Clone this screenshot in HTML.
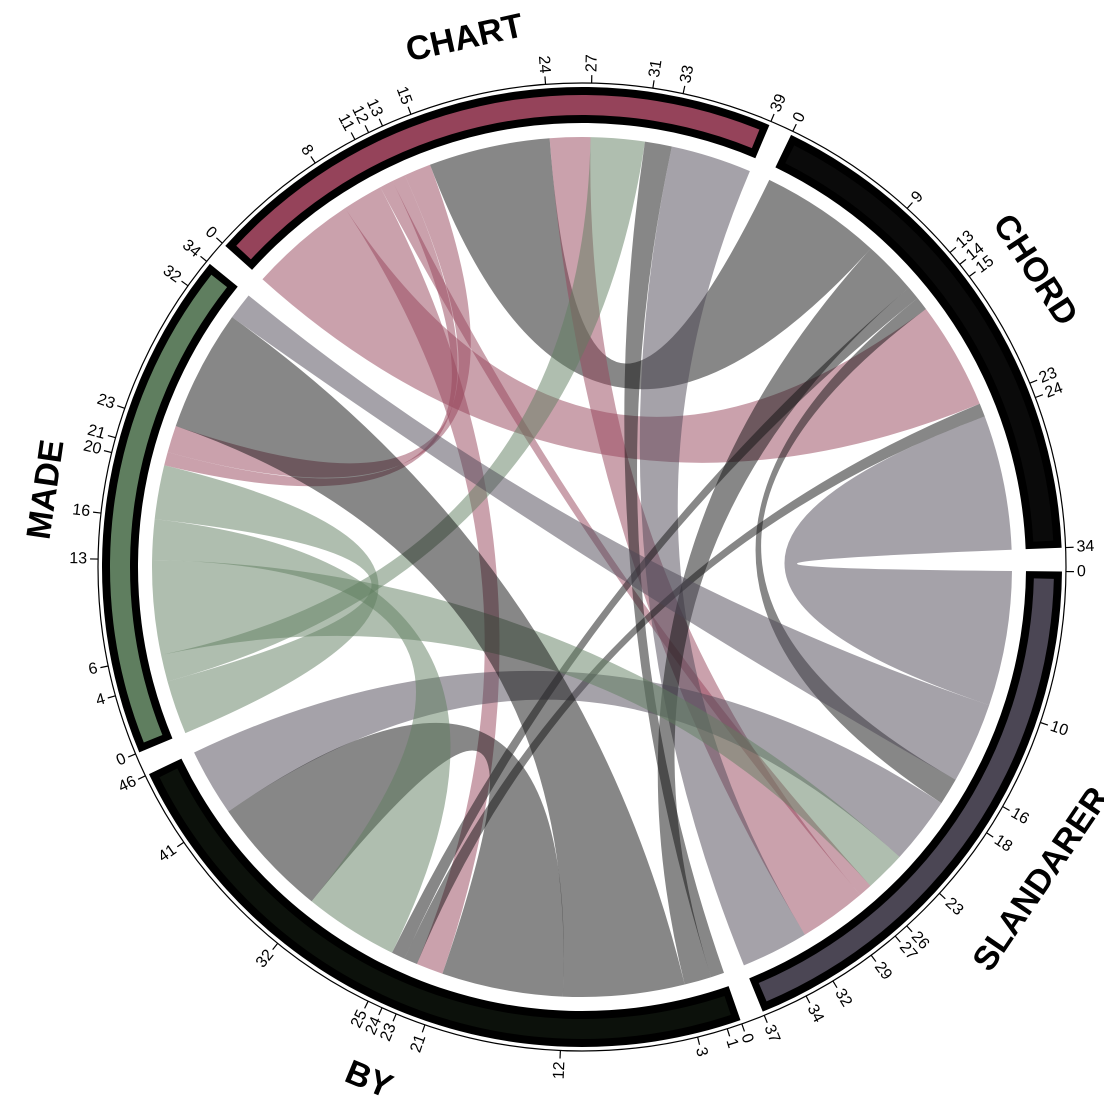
<!DOCTYPE html>
<html><head><meta charset="utf-8"><style>body{margin:0;background:#fff}svg{display:block}</style></head>
<body>
<svg id="s" width="1104" height="1102" xmlns="http://www.w3.org/2000/svg"></svg>
<script>
const cx=582,cy=567,R=430,d=1.82,g=2.84;
const groups=[
 {n:"CHART",len:39,col:"#95435a",ticks:[0,8,11,12,13,15,24,27,31,33,39]},
 {n:"CHORD",len:34,col:"#0a0a0a",ticks:[0,9,13,14,15,23,24,34]},
 {n:"SLANDARER",len:37,col:"#4b4654",ticks:[0,10,16,18,23,26,27,29,32,34,37]},
 {n:"BY",len:46,col:"#0c110b",ticks:[0,1,3,12,21,23,24,25,32,41,46]},
 {n:"MADE",len:34,col:"#5f7e5f",ticks:[0,4,6,13,16,20,21,23,32,34]}];
let a=-48;groups.forEach(G=>{G.s=a;a+=G.len*d+g;});
const ang=(gi,u)=>groups[gi].s+u*d;
const pt=(A,r)=>{const t=A*Math.PI/180;return [cx+r*Math.sin(t),cy-r*Math.cos(t)];};
let h="";
h+=`<circle cx="${cx}" cy="${cy}" r="484" fill="none" stroke="#000" stroke-width="1.2"/>`;
function arcBand(a1,a2,r1,r2){const p1=pt(a1,r2),p2=pt(a2,r2),p3=pt(a2,r1),p4=pt(a1,r1);const L=(a2-a1)>180?1:0;
return `M${p1}A${r2},${r2} 0 ${L} 1 ${p2}L${p3}A${r1},${r1} 0 ${L} 0 ${p4}Z`;}
groups.forEach((G,i)=>{const e=G.s+G.len*d;
 h+=`<path d="${arcBand(G.s,e,444,480)}" fill="#000"/>`;
 h+=`<path d="${arcBand(G.s+0.9,e-0.9,452,472)}" fill="${G.col}"/>`;
 G.ticks.forEach(t=>{const A=ang(i,t);const p=pt(A,484),q=pt(A,492);
  h+=`<line x1="${p[0]}" y1="${p[1]}" x2="${q[0]}" y2="${q[1]}" stroke="#000" stroke-width="1.2"/>`;
  const l=pt(A,495);let An=((A%360)+360)%360;let rot,anc;
  if(An>=0&&An<180){rot=An-90;anc="start";}else{rot=An+90;anc="end";}
  h+=`<text x="${l[0]}" y="${l[1]}" transform="rotate(${rot} ${l[0]} ${l[1]})" text-anchor="${anc}" dominant-baseline="central" font-family="Liberation Sans,sans-serif" font-size="16">${t}</text>`;});
 const m=G.s+G.len*d/2;let mn=((m%360)+360)%360;let bottom=mn>100&&mn<260;
 const lp=pt(m,bottom?555:542);const rot=bottom?mn+180:mn;
 h+=`<text x="${lp[0]}" y="${lp[1]}" transform="rotate(${rot} ${lp[0]} ${lp[1]})" text-anchor="middle" dominant-baseline="central" font-family="Liberation Sans,sans-serif" font-weight="bold" font-size="34">${G.n}</text>`;
});
const CH=0,CD=1,SL=2,BY=3,MD=4;
const pink="#95435a",gry="#101010",lg="#4b4654",grn="#5f7e5f";
const rib=[
[CH,0,8,CD,15,23,pink],[CH,8,11,BY,21,23,pink],[CH,11,12,SL,26,27,pink],[CH,12,13,MD,20,21,pink],
[CH,13,15,MD,21,23,pink],[CH,15,24,CD,0,9,gry],[CH,24,27,SL,27,32,pink],[CH,27,31,MD,4,6,grn],
[CH,31,33,BY,0,1,gry],[CH,33,39,SL,32,37,lg],[CD,9,13,BY,1,3,gry],[CD,13,14,BY,24,25,gry],
[CD,14,15,SL,16,18,gry],[CD,23,24,BY,23,24,gry],[CD,24,34,SL,0,10,lg],[SL,10,16,MD,32,34,lg],
[SL,18,23,BY,41,46,lg],[SL,23,26,MD,6,13,grn],[BY,3,12,MD,23,32,gry],[BY,12,21,BY,32,41,gry],
[BY,25,32,MD,13,16,grn],[MD,0,4,MD,16,20,grn]];
rib.forEach(r=>{const a1=ang(r[0],r[1]),a2=ang(r[0],r[2]),b1=ang(r[3],r[4]),b2=ang(r[3],r[5]);
 const P=(A)=>pt(A,R);
 const dpath=`M${P(a1)}A${R},${R} 0 0 1 ${P(a2)}Q${cx},${cy} ${P(b1)}A${R},${R} 0 0 1 ${P(b2)}Q${cx},${cy} ${P(a1)}Z`;
 h+=`<path d="${dpath}" fill="${r[6]}" fill-opacity="0.5"/>`;});
document.getElementById("s").innerHTML=h;
</script>
</body></html>
